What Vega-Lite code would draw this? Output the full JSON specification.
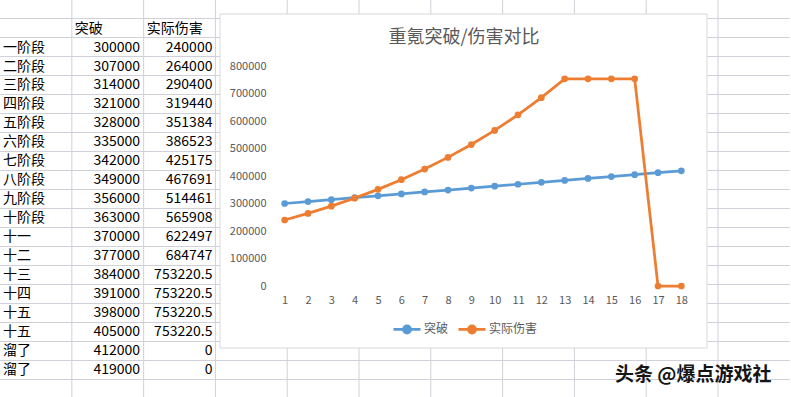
{
  "$schema": "https://vega.github.io/schema/vega-lite/v6.json",
  "width": 420,
  "height": 220,
  "autosize": {"type": "none"},
  "padding": {"left": 273, "top": 66, "right": 98, "bottom": 111},
  "background": "white",
  "config": {"font": "Noto Sans CJK SC", "view": {"stroke": null}},
  "title": {"text": "重氪突破/伤害对比", "fontSize": 18, "color": "#595959", "font": "Noto Sans CJK SC", "fontWeight": "normal", "anchor": "middle", "dx": -19, "dy": 62, "offset": 14, "zindex": 1},
  "datasets": {
    "rows": [
      {"n": 1, "label": "一阶段", "突破": 300000, "实际伤害": 240000},
      {"n": 2, "label": "二阶段", "突破": 307000, "实际伤害": 264000},
      {"n": 3, "label": "三阶段", "突破": 314000, "实际伤害": 290400},
      {"n": 4, "label": "四阶段", "突破": 321000, "实际伤害": 319440},
      {"n": 5, "label": "五阶段", "突破": 328000, "实际伤害": 351384},
      {"n": 6, "label": "六阶段", "突破": 335000, "实际伤害": 386523},
      {"n": 7, "label": "七阶段", "突破": 342000, "实际伤害": 425175},
      {"n": 8, "label": "八阶段", "突破": 349000, "实际伤害": 467691},
      {"n": 9, "label": "九阶段", "突破": 356000, "实际伤害": 514461},
      {"n": 10, "label": "十阶段", "突破": 363000, "实际伤害": 565908},
      {"n": 11, "label": "十一", "突破": 370000, "实际伤害": 622497},
      {"n": 12, "label": "十二", "突破": 377000, "实际伤害": 684747},
      {"n": 13, "label": "十三", "突破": 384000, "实际伤害": 753220.5},
      {"n": 14, "label": "十四", "突破": 391000, "实际伤害": 753220.5},
      {"n": 15, "label": "十五", "突破": 398000, "实际伤害": 753220.5},
      {"n": 16, "label": "十五", "突破": 405000, "实际伤害": 753220.5},
      {"n": 17, "label": "溜了", "突破": 412000, "实际伤害": 0},
      {"n": 18, "label": "溜了", "突破": 419000, "实际伤害": 0}
    ]
  },
  "data": {"name": "rows"},
  "layer": [
    {
      "layer": [
        {
          "data": {"values": [{"c": 1}, {"c": 2}, {"c": 3}, {"c": 4}, {"c": 5}, {"c": 6}, {"c": 7}, {"c": 8}, {"c": 9}, {"c": 10}]},
          "mark": {"type": "rule", "color": "#D0D0DA", "strokeWidth": 1},
          "encoding": {
            "x": {"field": "c", "type": "quantitative", "axis": null, "scale": {"domain": [3.802, 9.652], "nice": false, "zero": false}},
            "y": {"datum": -0.974, "type": "quantitative", "axis": null, "scale": {"domain": [2.5, 14.079], "reverse": true, "nice": false, "zero": false}},
            "y2": {"datum": 20}
          }
        },
        {
          "data": {"values": [{"r": 0}, {"r": 1}, {"r": 2}, {"r": 3}, {"r": 4}, {"r": 5}, {"r": 6}, {"r": 7}, {"r": 8}, {"r": 9}, {"r": 10}, {"r": 11}, {"r": 12}, {"r": 13}, {"r": 14}, {"r": 15}, {"r": 16}, {"r": 17}, {"r": 18}, {"r": 19}]},
          "mark": {"type": "rule", "color": "#D0D0DA", "strokeWidth": 1},
          "encoding": {
            "y": {"field": "r", "type": "quantitative", "axis": null, "scale": {"domain": [2.5, 14.079], "reverse": true, "nice": false, "zero": false}},
            "x": {"datum": 0, "type": "quantitative", "axis": null, "scale": {"domain": [3.802, 9.652], "nice": false, "zero": false}},
            "x2": {"datum": 11}
          }
        },
        {
          "mark": {"type": "text", "align": "left", "baseline": "middle", "dx": 3, "dy": 10, "fontSize": 14, "color": "#000000"},
          "encoding": {
            "x": {"datum": 0, "type": "quantitative", "axis": null, "scale": {"domain": [3.802, 9.652], "nice": false, "zero": false}},
            "y": {"field": "n", "type": "quantitative", "axis": null, "scale": {"domain": [2.5, 14.079], "reverse": true, "nice": false, "zero": false}},
            "text": {"field": "label", "type": "nominal"}
          }
        },
        {
          "mark": {"type": "text", "align": "right", "baseline": "middle", "dx": -3.5, "dy": 10, "fontSize": 14, "color": "#000000"},
          "encoding": {
            "x": {"datum": 2, "type": "quantitative", "axis": null, "scale": {"domain": [3.802, 9.652], "nice": false, "zero": false}},
            "y": {"field": "n", "type": "quantitative", "axis": null, "scale": {"domain": [2.5, 14.079], "reverse": true, "nice": false, "zero": false}},
            "text": {"field": "突破", "type": "nominal"}
          }
        },
        {
          "mark": {"type": "text", "align": "right", "baseline": "middle", "dx": -3, "dy": 10, "fontSize": 14, "color": "#000000"},
          "encoding": {
            "x": {"datum": 3, "type": "quantitative", "axis": null, "scale": {"domain": [3.802, 9.652], "nice": false, "zero": false}},
            "y": {"field": "n", "type": "quantitative", "axis": null, "scale": {"domain": [2.5, 14.079], "reverse": true, "nice": false, "zero": false}},
            "text": {"field": "实际伤害", "type": "nominal"}
          }
        },
        {
          "data": {"values": [{"h": "突破", "c": 1}, {"h": "实际伤害", "c": 2}]},
          "mark": {"type": "text", "align": "left", "baseline": "middle", "dx": 3, "dy": 10, "fontSize": 14, "color": "#000000"},
          "encoding": {
            "x": {"field": "c", "type": "quantitative", "axis": null, "scale": {"domain": [3.802, 9.652], "nice": false, "zero": false}},
            "y": {"datum": 0, "type": "quantitative", "axis": null, "scale": {"domain": [2.5, 14.079], "reverse": true, "nice": false, "zero": false}},
            "text": {"field": "h", "type": "nominal"}
          }
        },
        {
          "data": {"values": [{"box": "chart"}]},
          "mark": {"type": "rect", "fill": "#FFFFFF", "stroke": "#D9D9D9", "strokeWidth": 1},
          "encoding": {
            "x": {"datum": 3.064, "type": "quantitative", "axis": null, "scale": {"domain": [3.802, 9.652], "nice": false, "zero": false}},
            "x2": {"datum": 9.847},
            "y": {"datum": -0.237, "type": "quantitative", "axis": null, "scale": {"domain": [2.5, 14.079], "reverse": true, "nice": false, "zero": false}},
            "y2": {"datum": 17.342}
          }
        },
        {
          "data": {"values": [{"w": "头条 @爆点游戏社"}]},
          "mark": {"type": "text", "align": "left", "baseline": "middle", "fontSize": 19, "fontWeight": "bold", "color": "#151515"},
          "encoding": {
            "x": {"datum": 8.565, "type": "quantitative", "axis": null, "scale": {"domain": [3.802, 9.652], "nice": false, "zero": false}},
            "y": {"datum": 18.76, "type": "quantitative", "axis": null, "scale": {"domain": [2.5, 14.079], "reverse": true, "nice": false, "zero": false}},
            "text": {"field": "w", "type": "nominal"}
          }
        }
      ]
    },
    {
      "transform": [{"fold": ["突破", "实际伤害"], "as": ["series", "value"]}],
      "mark": {"type": "line", "strokeWidth": 2.75, "point": {"filled": true, "size": 45}},
      "encoding": {
        "x": {"field": "n", "type": "ordinal", "sort": "ascending", "scale": {"type": "point", "padding": 0.5},
              "axis": {"title": null, "labelAngle": 0, "ticks": false, "domain": false, "grid": false, "labelPadding": 8, "labelColor": "#595959", "labelFontSize": 11, "zindex": 1}},
        "y": {"field": "value", "type": "quantitative", "scale": {"domain": [0, 800000], "nice": false},
              "axis": {"title": null, "values": [0, 100000, 200000, 300000, 400000, 500000, 600000, 700000, 800000], "format": "d", "ticks": false, "domain": false, "gridColor": "#D9D9D9", "labelPadding": 7, "labelColor": "#595959", "labelFontSize": 11, "zindex": 1}},
        "color": {"field": "series", "type": "nominal",
                  "scale": {"domain": ["突破", "实际伤害"], "range": ["#5B9BD5", "#ED7D31"]},
                  "legend": {"title": null, "orient": "none", "legendX": 119, "legendY": 248, "direction": "horizontal", "zindex": 1,
                             "symbolType": "M-1,0L1,0M-0.26,0A0.26,0.26,0,1,1,0.26,0A0.26,0.26,0,1,1,-0.26,0Z",
                             "symbolSize": 729, "symbolStrokeWidth": 2.75, "labelFontSize": 12, "labelColor": "#595959", "labelOffset": 2, "columnPadding": 4,
                             "encode": {"symbols": {"update": {"fill": {"scale": "color", "field": "value"}}}}}}
      }
    }
  ],
  "resolve": {"scale": {"x": "independent", "y": "independent"}}
}
